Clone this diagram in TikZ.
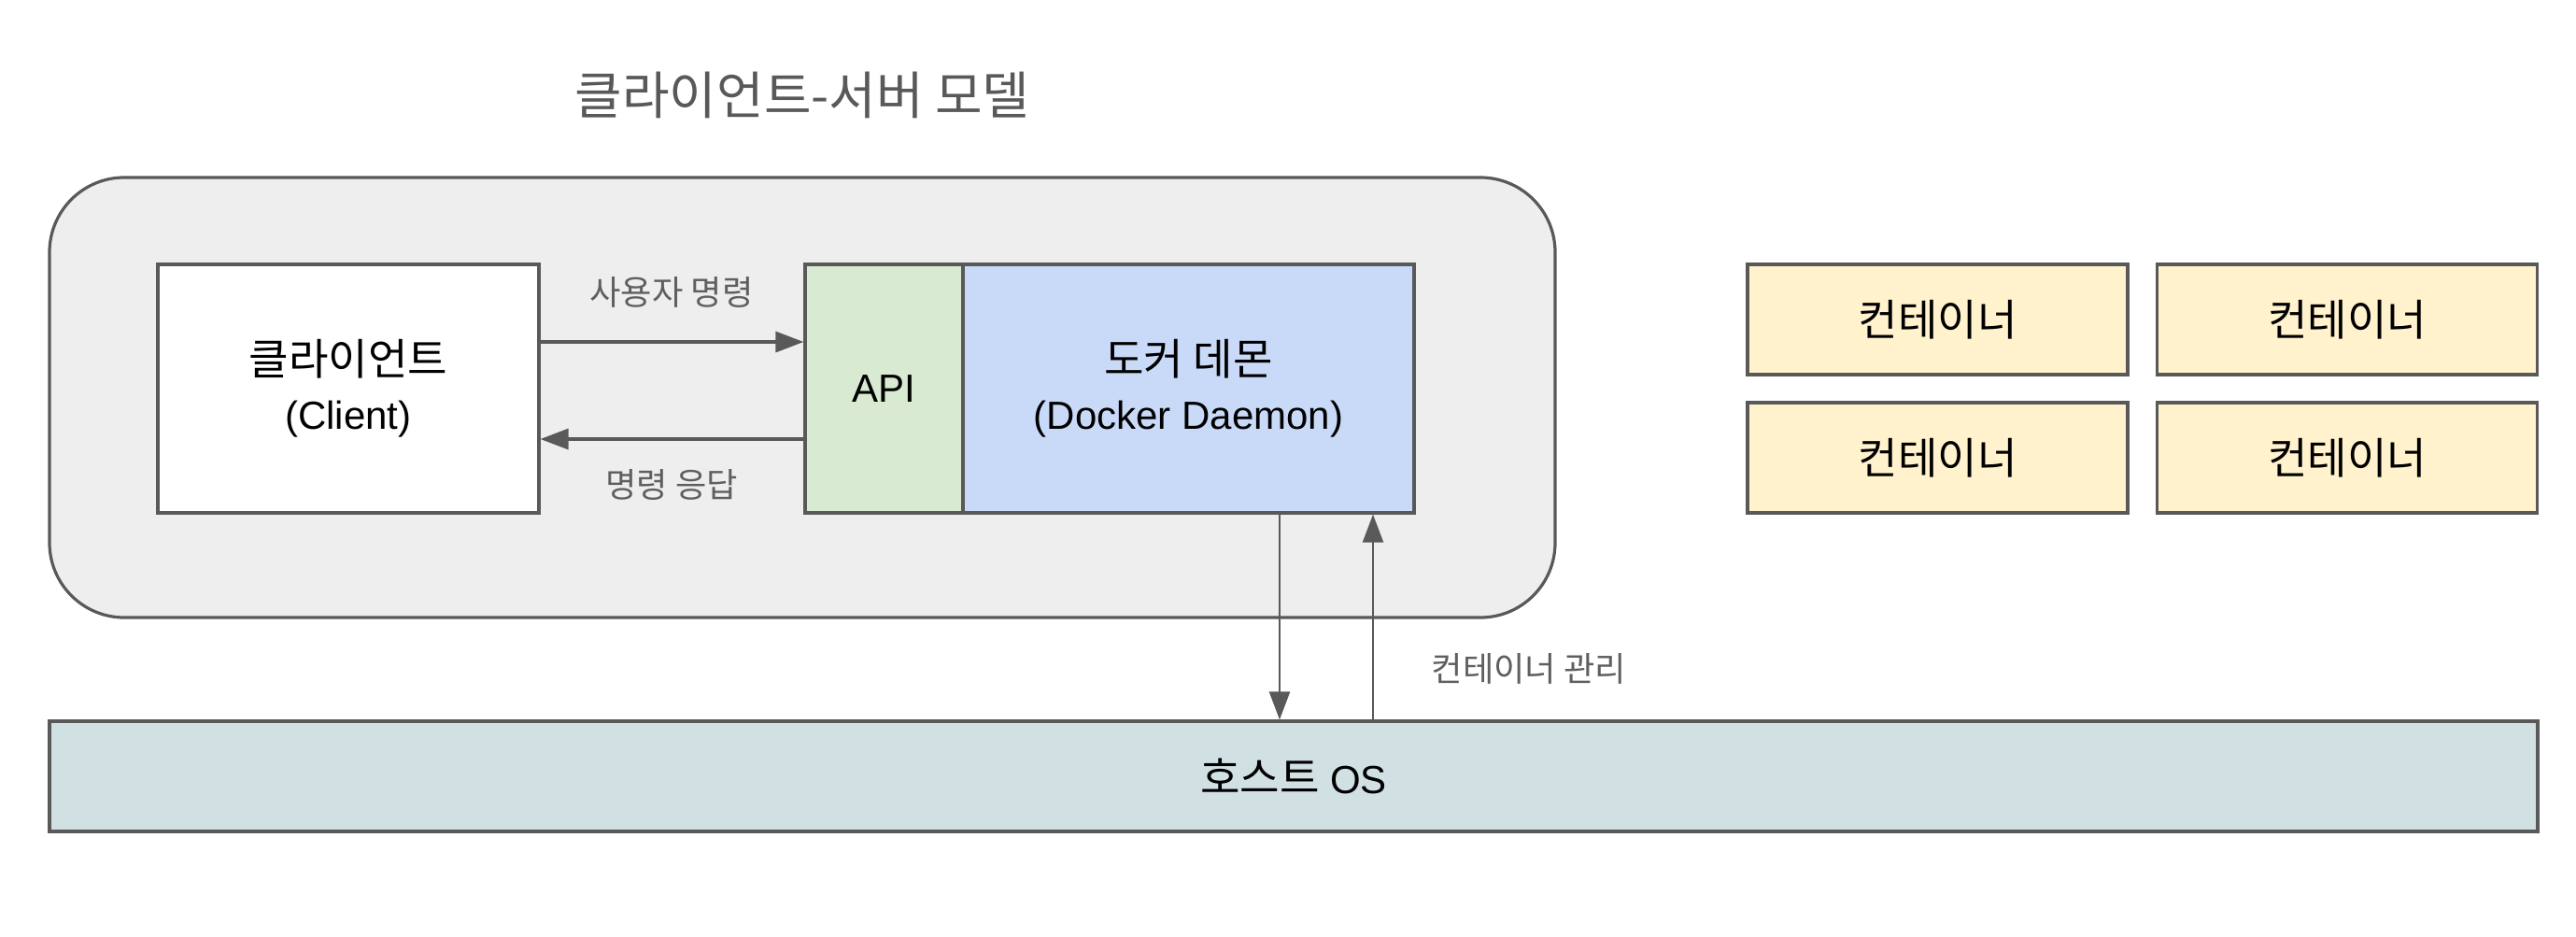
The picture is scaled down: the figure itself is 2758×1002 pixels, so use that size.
\documentclass[tikz,border=0pt]{standalone}
\usepackage{fontspec}
\setmainfont{Liberation Sans}
\newfontfamily\kr[Scale=1.1]{Noto Sans CJK KR}
\usetikzlibrary{arrows.meta}
\definecolor{lineg}{HTML}{595959}
\definecolor{outerbg}{HTML}{EEEEEE}
\definecolor{apibg}{HTML}{D9EAD3}
\definecolor{daemonbg}{HTML}{C9DAF8}
\definecolor{contbg}{HTML}{FFF2CC}
\definecolor{hostbg}{HTML}{D0E0E3}
\definecolor{labelg}{HTML}{5F5F5F}
\tikzset{
  box/.style={draw=lineg, line width=1.6pt, inner sep=0pt, align=center,
    font=\fontsize{21}{28}\selectfont, text=black},
  lbl/.style={font=\fontsize{16.5}{20}\selectfont\kr, text=labelg, inner sep=0pt},
  arr/.style={draw=lineg, line width=1.6pt, -{Triangle[length=15pt,width=11pt]}},
  varr/.style={draw=lineg, line width=1.2pt, -{Triangle[length=15pt,width=11pt]}},
  contbox/.style={box, fill=contbg, minimum width=203.5pt, minimum height=59pt,
    font=\fontsize{21}{28}\selectfont\kr},
}
\begin{document}
\begin{tikzpicture}[x=0.5pt,y=-0.5pt]
\useasboundingbox[fill=white] (0,0) rectangle (2758,1002);
% title
\node[inner sep=0pt, text=lineg, font=\fontsize{25}{30}\selectfont\kr] (title) at (859,102) {클라이언트-서버 모델};
% outer rounded container
\node[draw=lineg, line width=1.6pt, fill=outerbg, rounded corners=40pt,
  minimum width=806pt, minimum height=235.5pt, inner sep=0pt] (outer) at (859,425.5) {};
% client
\node[box, fill=white, minimum width=204pt, minimum height=133pt] (client) at (373,416)
  {{\kr 클라이언트}\\[1pt](Client)};
% API
\node[box, fill=apibg, minimum width=84.5pt, minimum height=133pt] (api) at (946.5,416) {API};
% daemon
\node[box, fill=daemonbg, minimum width=241.5pt, minimum height=133pt] (daemon) at (1272.5,416)
  {{\kr 도커 데몬}\\[1pt](Docker Daemon)};
% host OS
\node[box, fill=hostbg, minimum width=1332pt, minimum height=59pt] (host) at (1385,831)
  {{\kr 호스트} OS};
% containers
\node[contbox] (c1) at (2074.5,342) {컨테이너};
\node[contbox] (c2) at (2513,342) {컨테이너};
\node[contbox] (c3) at (2074.5,490) {컨테이너};
\node[contbox] (c4) at (2513,490) {컨테이너};
% helper coordinates
\coordinate (ya) at (0,366);
\coordinate (yb) at (0,470);
\coordinate (xd) at (1370,0);
\coordinate (xu) at (1470,0);
% horizontal arrows
\draw[arr] (client.east |- ya) -- (api.west |- ya);
\draw[arr] (api.west |- yb) -- (client.east |- yb);
% vertical arrows
\draw[varr] (daemon.south -| xd) -- (host.north -| xd);
\draw[varr] (host.north -| xu) -- (daemon.south -| xu);
% labels
\node[lbl] (l1) at (719,313) {사용자 명령};
\node[lbl] (l2) at (719,519) {명령 응답};
\node[lbl] (l3) at (1637,716) {컨테이너 관리};
\end{tikzpicture}
\end{document}
